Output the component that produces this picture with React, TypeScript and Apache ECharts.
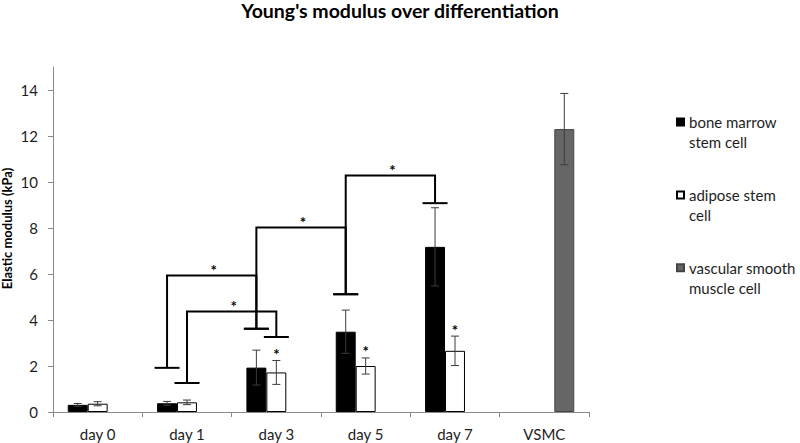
import React, { useEffect, useRef } from 'react';
import * as echarts from 'echarts';

const categories = ['day 0', 'day 1', 'day 3', 'day 5', 'day 7', 'VSMC'];
const seriesNames = ['bone marrow\nstem cell', 'adipose stem\ncell', 'vascular smooth\nmuscle cell'];
const boneMarrow = [0.31, 0.38, 1.93, 3.49, 7.18, null];
const boneMarrowErr = [0.06, 0.08, 0.76, 0.94, 1.7, null];
const adipose = [0.36, 0.42, 1.72, 2.0, 2.66, null];
const adiposeErr = [0.09, 0.1, 0.52, 0.35, 0.64, null];
const vsmc = [null, null, null, null, null, 12.3];
const vsmcErr = [null, null, null, null, null, 1.55];
const adiposeStars = ['day 3', 'day 5', 'day 7'];
const yTicks = [0, 2, 4, 6, 8, 10, 12, 14];
// significance brackets: [category, series index, cap value]
const bracketLeft: [string, number, number][] = [
  ['day 1', 0, 1.92],
  ['day 1', 1, 1.26],
  ['day 3', 0, 3.62],
  ['day 5', 0, 5.12],
];
const bracketRight: [string, number, number][] = [
  ['day 3', 0, 3.62],
  ['day 3', 1, 3.26],
  ['day 5', 0, 5.12],
  ['day 7', 0, 9.08],
];
const bracketTop = [5.93, 4.37, 8.02, 10.28];

const GAP = 0.33;
const FONT = 'Lato';
const TEXT = '#1e1e1e';

export default function App() {
  const ref = useRef<HTMLDivElement>(null);
  useEffect(() => {
    document.body.style.margin = '0';
    const chart = echarts.init(ref.current!, null, { renderer: 'svg' });

    const values = [boneMarrow, adipose, vsmc];
    const errs = [boneMarrowErr, adiposeErr, vsmcErr];
    const errData: number[][] = [];
    values.forEach((arr, s) => {
      arr.forEach((v, i) => {
        const e = errs[s][i];
        if (v == null || e == null) return;
        const star = s === 1 && adiposeStars.includes(categories[i]) ? 1 : 0;
        errData.push([i, s, v - e, v + e, star]);
      });
    });
    const bracketData = bracketTop.map((t, k) => [
      categories.indexOf(bracketLeft[k][0]), bracketLeft[k][1], bracketLeft[k][2],
      categories.indexOf(bracketRight[k][0]), bracketRight[k][1], bracketRight[k][2],
      t,
    ]);

    const barColors = [
      { color: '#000000', borderColor: '#000000', borderWidth: 1 },
      { color: '#ffffff', borderColor: '#000000', borderWidth: 1 },
      { color: '#666666', borderColor: '#444444', borderWidth: 1 },
    ];

    const starStyle = { text: '*', align: 'center', verticalAlign: 'bottom', font: `bold 15px ${FONT}`, fill: '#000' };

    const option: any = {
      animation: false,
      title: {
        text: "Young's modulus over differentiation",
        left: 'center',
        top: 0,
        padding: 0,
        textStyle: { fontFamily: FONT, fontWeight: 'bold', fontSize: 19.5, color: '#000' },
      },
      legend: {
        orient: 'vertical',
        left: 676,
        top: 91.5,
        padding: 0,
        itemWidth: 7,
        itemHeight: 7,
        itemGap: 11.6,
        icon: 'rect',
        data: seriesNames,
        formatter: (name: string) => '\n' + name,
        textStyle: {
          fontFamily: FONT,
          fontSize: 15,
          color: TEXT,
          lineHeight: 20.4,
        },
      },
      grid: {
        left: 53,
        right: 211,
        top: 67,
        bottom: 31,
        containLabel: false,
        outerBoundsMode: 'none',
      },
      xAxis: {
        type: 'category',
        data: categories,
        axisLine: { show: true, lineStyle: { color: '#8a8a8a', width: 1 } },
        axisTick: { show: true, length: 5, lineStyle: { color: '#8a8a8a' } },
        axisLabel: { fontFamily: FONT, fontSize: 15, color: TEXT, margin: 14 },
      },
      yAxis: {
        type: 'value',
        min: 0,
        max: 15,
        interval: 2,
        name: 'Elastic modulus (kPa)',
        nameLocation: 'middle',
        nameGap: 40,
        nameMoveOverlap: false,
        nameTextStyle: {
          fontFamily: FONT,
          fontWeight: 'bold',
          fontSize: 13,
          color: '#000',
          padding: [0, 0, 0, 22],
        },
        splitLine: { show: false },
        axisLine: { show: true, lineStyle: { color: '#8a8a8a', width: 1 } },
        axisTick: { show: true, length: 5, customValues: yTicks, lineStyle: { color: '#8a8a8a' } },
        axisLabel: { fontFamily: FONT, fontSize: 15, color: TEXT, margin: 15, customValues: yTicks },
      },
      series: [
        ...values.map((arr, s) => ({
          type: 'bar',
          name: seriesNames[s],
          data: arr,
          barCategoryGap: (GAP * 100) + '%',
          barGap: '0%',
          itemStyle: barColors[s],
          z: 2,
        })),
        {
          type: 'custom',
          name: 'errors',
          data: errData,
          encode: { x: 0, y: [2, 3] },
          z: 3,
          renderItem: (params: any, api: any) => {
            const cat = api.value(0);
            const slot = api.value(1);
            const lo = api.value(2);
            const hi = api.value(3);
            const star = api.value(4);
            const band = api.size([1, 0])[0];
            const bw = (band * (1 - GAP)) / 3;
            const pLo = api.coord([cat, lo]);
            const pHi = api.coord([cat, hi]);
            const x = pLo[0] + (slot - 1) * bw;
            const cap = 4;
            const st = { stroke: '#3c3c3c', lineWidth: 1 };
            const children: any[] = [
              { type: 'line', shape: { x1: x, y1: pLo[1], x2: x, y2: pHi[1] }, style: st },
              { type: 'line', shape: { x1: x - cap, y1: pHi[1], x2: x + cap, y2: pHi[1] }, style: st },
              { type: 'line', shape: { x1: x - cap, y1: pLo[1], x2: x + cap, y2: pLo[1] }, style: st },
            ];
            if (star) {
              children.push({ type: 'text', x: x, y: pHi[1] + 1, style: starStyle });
            }
            return { type: 'group', children };
          },
        },
        {
          type: 'custom',
          name: 'brackets',
          data: bracketData,
          encode: { x: [0, 3], y: [2, 5, 6] },
          z: 4,
          renderItem: (params: any, api: any) => {
            const li = api.value(0), ls = api.value(1), lc = api.value(2);
            const ri = api.value(3), rs = api.value(4), rc = api.value(5);
            const top = api.value(6);
            const band = api.size([1, 0])[0];
            const bw = (band * (1 - GAP)) / 3;
            const xl = api.coord([li, top])[0] + (ls - 1) * bw;
            const xr = api.coord([ri, top])[0] + (rs - 1) * bw;
            const yt = api.coord([li, top])[1];
            const yl = api.coord([li, lc])[1];
            const yr = api.coord([ri, rc])[1];
            const capHalf = 12.5;
            const st = { stroke: '#000', lineWidth: 2, fill: 'none' };
            return {
              type: 'group',
              children: [
                { type: 'polyline', shape: { points: [[xl, yl], [xl, yt], [xr, yt], [xr, yr]] }, style: st },
                { type: 'line', shape: { x1: xl - capHalf, y1: yl, x2: xl + capHalf, y2: yl }, style: st },
                { type: 'line', shape: { x1: xr - capHalf, y1: yr, x2: xr + capHalf, y2: yr }, style: st },
                { type: 'text', x: (xl + xr) / 2 + 2, y: yt + 2, style: starStyle },
              ],
            };
          },
        },
      ],
    };
    chart.setOption(option);
    return () => chart.dispose();
  }, []);
  return <div ref={ref} style={{ width: 800, height: 443 }} />;
}
